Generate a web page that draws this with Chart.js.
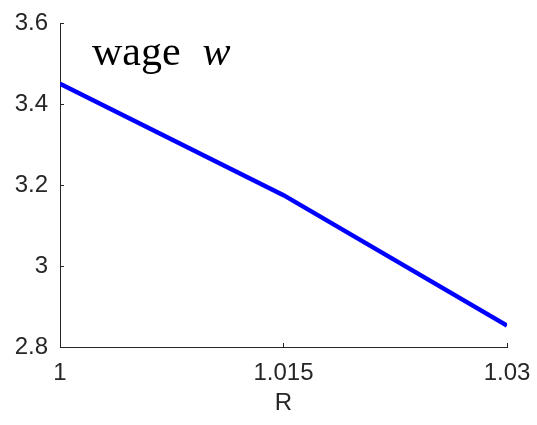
<!DOCTYPE html>
<html>
<head>
<meta charset="utf-8">
<script src="https://cdn.jsdelivr.net/npm/chart.js@4/dist/chart.umd.min.js"></script>
<style>
  html, body { margin: 0; padding: 0; background: #fff; }
  #wrap { width: 537px; height: 425px; }
</style>
</head>
<body>
<div id="wrap"><canvas id="c" width="537" height="425"></canvas></div>
<script>
// Interest rate R and the equilibrium wage w
const rValues = [1, 1.015, 1.03];
const wageValues = [3.45, 3.175, 2.853];
const xTickValues = [1, 1.015, 1.03];
const yTickValues = [2.8, 3, 3.2, 3.4, 3.6];
const axisColor = '#262626';
const labelFont = '"Liberation Sans", Arial, sans-serif';

// Short inward tick marks on both axes
const innerTicks = {
  id: 'innerTicks',
  afterDraw(chart) {
    const { ctx, scales: { x, y }, chartArea: a } = chart;
    ctx.save();
    ctx.strokeStyle = axisColor;
    ctx.lineWidth = 1;
    ctx.beginPath();
    xTickValues.forEach(v => {
      const px = Math.round(x.getPixelForValue(v)) + 0.5;
      ctx.moveTo(px, a.bottom);
      ctx.lineTo(px, a.bottom - 4);
    });
    yTickValues.forEach(v => {
      const py = Math.round(y.getPixelForValue(v)) + 0.5;
      ctx.moveTo(a.left, py);
      ctx.lineTo(a.left + 4, py);
    });
    ctx.stroke();
    ctx.restore();
  }
};

// Panel label "wage w" in the upper left of the plot
const panelLabel = {
  id: 'panelLabel',
  afterDraw(chart) {
    const { ctx, chartArea: a } = chart;
    ctx.save();
    ctx.fillStyle = '#000';
    ctx.textBaseline = 'alphabetic';
    const x0 = a.left + 32, y0 = a.top + 42;
    ctx.font = '42px "Liberation Serif", "DejaVu Serif", serif';
    ctx.fillText('wage', x0, y0);
    const w1 = ctx.measureText('wage').width;
    ctx.font = 'italic 42px "Liberation Serif", "DejaVu Serif", serif';
    ctx.fillText('w', x0 + w1 + 22, y0);
    ctx.restore();
  }
};

new Chart(document.getElementById('c'), {
  type: 'line',
  data: {
    datasets: [{
      data: rValues.map((r, i) => ({ x: r, y: wageValues[i] })),
      borderColor: '#0000ff',
      borderWidth: 4.5,
      pointRadius: 0,
      tension: 0,
      fill: false
    }]
  },
  options: {
    responsive: false,
    animation: false,
    layout: { padding: { top: 23, right: 30, left: 0, bottom: 0 } },
    plugins: { legend: { display: false }, tooltip: { enabled: false } },
    scales: {
      x: {
        type: 'linear',
        min: 1,
        max: 1.03,
        afterBuildTicks: s => { s.ticks = xTickValues.map(v => ({ value: v })); },
        afterFit: s => { s.height = 78; s.paddingLeft = 0; s.paddingRight = 0; },
        ticks: {
          color: axisColor,
          font: { family: labelFont, size: 24 },
          padding: 12,
          maxRotation: 0,
          callback: v => String(+v.toFixed(3))
        },
        grid: { drawOnChartArea: false, drawTicks: false },
        border: { display: true, color: axisColor, width: 1 },
        title: {
          display: true,
          text: 'R',
          color: axisColor,
          font: { family: labelFont, size: 24 },
          padding: { top: 0, bottom: 7 }
        }
      },
      y: {
        type: 'linear',
        min: 2.8,
        max: 3.6,
        afterBuildTicks: s => { s.ticks = yTickValues.map(v => ({ value: v })); },
        afterFit: s => { s.width = 60; s.paddingTop = 0; s.paddingBottom = 0; },
        ticks: {
          color: axisColor,
          font: { family: labelFont, size: 24 },
          padding: 12,
          callback: v => String(+v.toFixed(1))
        },
        grid: { drawOnChartArea: false, drawTicks: false },
        border: { display: true, color: axisColor, width: 1 }
      }
    }
  },
  plugins: [innerTicks, panelLabel]
});
</script>
</body>
</html>
